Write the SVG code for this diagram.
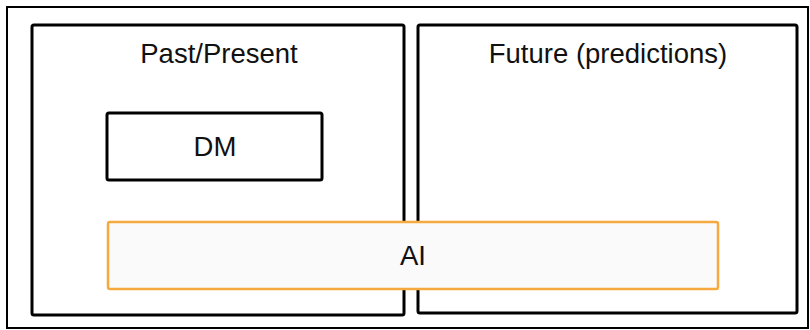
<svg xmlns="http://www.w3.org/2000/svg" width="810" height="330" viewBox="0 0 810 330">
<style>
.frame{fill:#fff;stroke:#000;}
.lbl{font-family:"Liberation Sans",Arial,sans-serif;font-size:27.5px;fill:#111;text-anchor:middle;}
</style>
<rect x="0" y="0" width="810" height="330" fill="#fff"/>
<g id="outer"><rect class="frame" x="7" y="7" width="801" height="321" stroke-width="2"/></g>
<g id="past"><rect class="frame" x="32" y="25" width="372" height="290" rx="2" stroke-width="3"/>
<text class="lbl" x="219" y="63">Past/Present</text></g>
<g id="future"><rect class="frame" x="418" y="25" width="379" height="288" rx="2" stroke-width="3"/>
<text class="lbl" x="608" y="63">Future (predictions)</text></g>
<g id="dm"><rect class="frame" x="107" y="113" width="215" height="67" rx="2" stroke-width="3"/>
<text class="lbl" x="215" y="156">DM</text></g>
<g id="ai"><rect x="108" y="222" width="610" height="67" rx="2" fill="#fafafa" stroke="#F5A93F" stroke-width="2.5"/>
<text class="lbl" x="413" y="265">AI</text></g>
<g id="connectors"></g>
</svg>
